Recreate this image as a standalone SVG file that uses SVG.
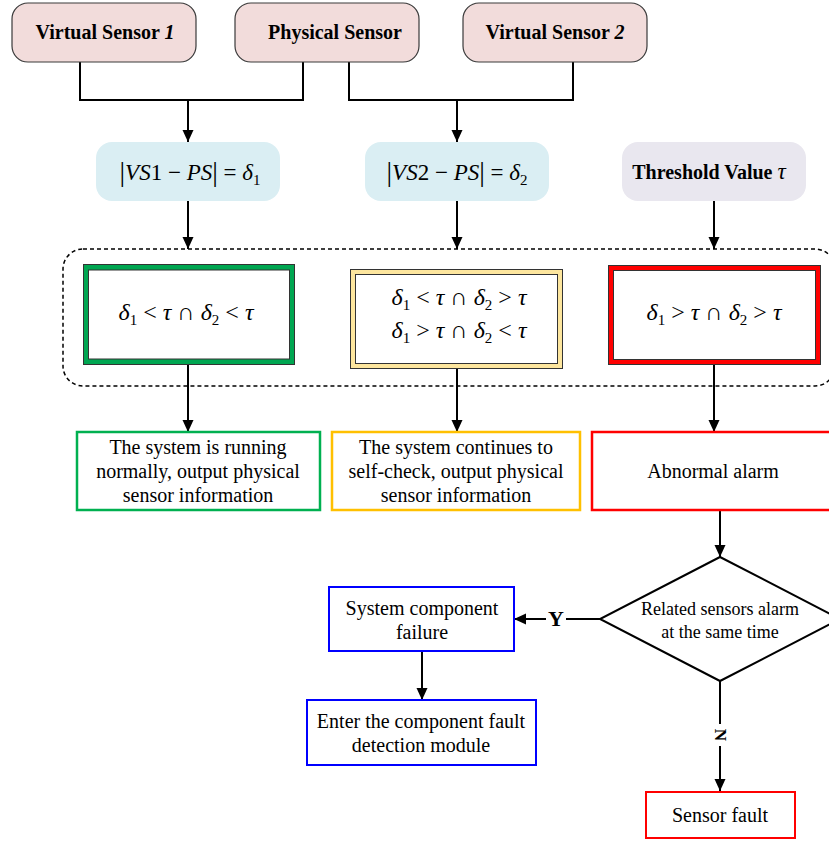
<svg xmlns="http://www.w3.org/2000/svg" width="829" height="841" viewBox="0 0 829 841">
<style>
.t{font-family:"Liberation Serif","DejaVu Serif",serif;fill:#000}
.b{font-weight:bold}
.i{font-style:italic}
.top{fill:#f2dcdb;stroke:#3a3a3a;stroke-width:1.2}
.frm{fill:#daeef3;stroke:none}
.thr{fill:#e9e7ef;stroke:none}
.ln{fill:none;stroke:#000;stroke-width:2}
.arr{fill:none;stroke:#000;stroke-width:2;marker-end:url(#ah)}
.math{font-size:24px}
.sub{font-size:15px}
.res{font-size:20px}
.bx{font-size:20px}
</style>
<defs>
<marker id="ah" markerWidth="12" markerHeight="12" refX="12" refY="5.5" orient="auto" markerUnits="userSpaceOnUse"><path d="M0,0 L12,5.5 L0,11 z" fill="#000"/></marker>
</defs>
<rect width="829" height="841" fill="#fff"/>

<g id="connectors">
<polyline class="ln" points="80,62 80,100 303,100 303,62"/>
<polyline class="ln" points="349,62 349,100 573,100 573,62"/>
<line class="arr" x1="188" y1="100" x2="188" y2="142"/>
<line class="arr" x1="457" y1="100" x2="457" y2="142"/>
<line class="arr" x1="188" y1="201" x2="188" y2="249"/>
<line class="arr" x1="457" y1="201" x2="457" y2="249"/>
<line class="arr" x1="714" y1="201" x2="714" y2="249"/>
<line class="arr" x1="188" y1="365" x2="188" y2="432"/>
<line class="arr" x1="457" y1="369" x2="457" y2="432"/>
<line class="arr" x1="714" y1="365" x2="714" y2="432"/>
<line class="arr" x1="720" y1="510" x2="720" y2="557"/>
<line class="ln" x1="600" y1="619" x2="566" y2="619"/>
<line class="arr" x1="546" y1="619" x2="514" y2="619"/>
<text class="t b" x="556" y="626" font-size="22" text-anchor="middle">Y</text>
<line class="arr" x1="422" y1="651" x2="422" y2="700"/>
<line class="ln" x1="720" y1="681" x2="720" y2="724"/>
<line class="arr" x1="720" y1="746" x2="720" y2="791"/>
<text class="t b" font-size="17" text-anchor="middle" dominant-baseline="central" transform="translate(720,735) rotate(90)">N</text>
</g>

<g id="vs1">
<rect class="top" x="12" y="3" width="184" height="59" rx="16"/>
<text class="t b" x="105" y="39" font-size="20" text-anchor="middle">Virtual Sensor <tspan class="i">1</tspan></text>
</g>
<g id="ps">
<rect class="top" x="235" y="3" width="184" height="59" rx="16"/>
<text class="t b" x="335" y="39" font-size="20" text-anchor="middle">Physical Sensor</text>
</g>
<g id="vs2">
<rect class="top" x="463" y="3" width="184" height="59" rx="16"/>
<text class="t b" x="555" y="39" font-size="20" text-anchor="middle">Virtual Sensor <tspan class="i">2</tspan></text>
</g>

<g id="f1">
<rect class="frm" x="96" y="142" width="184" height="59" rx="16"/>
<text class="t" x="190" y="180" font-size="23" text-anchor="middle"><tspan font-size="28" dy="1">|</tspan><tspan dy="-1" class="i">VS</tspan>1 − <tspan class="i">PS</tspan><tspan font-size="28" dy="1">|</tspan><tspan dy="-1"> = </tspan><tspan class="i">δ</tspan><tspan class="sub" dy="5">1</tspan></text>
</g>
<g id="f2">
<rect class="frm" x="365" y="142" width="184" height="59" rx="16"/>
<text class="t" x="457" y="180" font-size="23" text-anchor="middle"><tspan font-size="28" dy="1">|</tspan><tspan dy="-1" class="i">VS</tspan>2 − <tspan class="i">PS</tspan><tspan font-size="28" dy="1">|</tspan><tspan dy="-1"> = </tspan><tspan class="i">δ</tspan><tspan class="sub" dy="5">2</tspan></text>
</g>
<g id="thr">
<rect class="thr" x="622" y="142" width="184" height="59" rx="16"/>
<text class="t b" x="709" y="179" font-size="20" text-anchor="middle">Threshold Value <tspan class="i" font-weight="normal" font-size="23">τ</tspan></text>
</g>

<g id="group">
<rect x="63" y="249" width="772" height="137" rx="20" fill="none" stroke="#000" stroke-width="1.5" stroke-dasharray="4 3"/>
</g>

<g id="c1">
<rect x="83.5" y="264.5" width="211" height="100" fill="#00a651" stroke="#333" stroke-width="1"/>
<rect x="88.5" y="270" width="201" height="89" fill="#fff" stroke="#333" stroke-width="1"/>
<text class="t math" x="186" y="320" text-anchor="middle"><tspan class="i">δ</tspan><tspan class="sub" dy="5">1</tspan><tspan dy="-5"> &lt; </tspan><tspan class="i">τ</tspan> ∩ <tspan class="i">δ</tspan><tspan class="sub" dy="5">2</tspan><tspan dy="-5"> &lt; </tspan><tspan class="i">τ</tspan></text>
</g>
<g id="c2">
<rect x="350.5" y="269.5" width="212" height="99" fill="#fde69e" stroke="#333" stroke-width="1"/>
<rect x="355.5" y="274.5" width="202" height="89" fill="#fff" stroke="#333" stroke-width="1"/>
<text class="t math" x="459" y="305" text-anchor="middle"><tspan class="i">δ</tspan><tspan class="sub" dy="5">1</tspan><tspan dy="-5"> &lt; </tspan><tspan class="i">τ</tspan> ∩ <tspan class="i">δ</tspan><tspan class="sub" dy="5">2</tspan><tspan dy="-5"> &gt; </tspan><tspan class="i">τ</tspan></text>
<text class="t math" x="459" y="338" text-anchor="middle"><tspan class="i">δ</tspan><tspan class="sub" dy="5">1</tspan><tspan dy="-5"> &gt; </tspan><tspan class="i">τ</tspan> ∩ <tspan class="i">δ</tspan><tspan class="sub" dy="5">2</tspan><tspan dy="-5"> &lt; </tspan><tspan class="i">τ</tspan></text>
</g>
<g id="c3">
<rect x="608.5" y="265.5" width="212" height="99" fill="#ff0000" stroke="#333" stroke-width="1"/>
<rect x="613.5" y="270.5" width="202" height="89" fill="#fff" stroke="#333" stroke-width="1"/>
<text class="t math" x="714" y="320" text-anchor="middle"><tspan class="i">δ</tspan><tspan class="sub" dy="5">1</tspan><tspan dy="-5"> &gt; </tspan><tspan class="i">τ</tspan> ∩ <tspan class="i">δ</tspan><tspan class="sub" dy="5">2</tspan><tspan dy="-5"> &gt; </tspan><tspan class="i">τ</tspan></text>
</g>

<g id="r1">
<rect x="77" y="432" width="243" height="78" fill="#fff" stroke="#00b050" stroke-width="2.5"/>
<text class="t res" x="198" y="454" text-anchor="middle">The system is running</text>
<text class="t res" x="198" y="478" text-anchor="middle">normally, output physical</text>
<text class="t res" x="198" y="502" text-anchor="middle">sensor information</text>
</g>
<g id="r2">
<rect x="332" y="432" width="248" height="78" fill="#fff" stroke="#ffc000" stroke-width="2.5"/>
<text class="t res" x="456" y="454" text-anchor="middle">The system continues to</text>
<text class="t res" x="456" y="478" text-anchor="middle">self-check, output physical</text>
<text class="t res" x="456" y="502" text-anchor="middle">sensor information</text>
</g>
<g id="r3">
<rect x="592" y="432" width="245" height="78" fill="#fff" stroke="#ff0000" stroke-width="2.5"/>
<text class="t res" x="713" y="478" text-anchor="middle">Abnormal alarm</text>
</g>

<g id="decision">
<polygon points="720,557 840,619 720,681 600,619" fill="#fff" stroke="#000" stroke-width="2"/>
<text class="t" x="720" y="615" font-size="18" text-anchor="middle">Related sensors alarm</text>
<text class="t" x="720" y="638" font-size="18" text-anchor="middle">at the same time</text>
</g>

<g id="scf">
<rect x="329" y="587" width="185" height="64" fill="#fff" stroke="#0000ff" stroke-width="2"/>
<text class="t bx" x="422" y="615" text-anchor="middle">System component</text>
<text class="t bx" x="422" y="639" text-anchor="middle">failure</text>
</g>
<g id="enter">
<rect x="307" y="700" width="229" height="65" fill="#fff" stroke="#0000ff" stroke-width="2"/>
<text class="t bx" x="421" y="728" text-anchor="middle">Enter the component fault</text>
<text class="t bx" x="421" y="752" text-anchor="middle">detection module</text>
</g>
<g id="sfault">
<rect x="646" y="792" width="149" height="46" fill="#fff" stroke="#ff0000" stroke-width="2"/>
<text class="t bx" x="720" y="822" text-anchor="middle">Sensor fault</text>
</g>
</svg>
